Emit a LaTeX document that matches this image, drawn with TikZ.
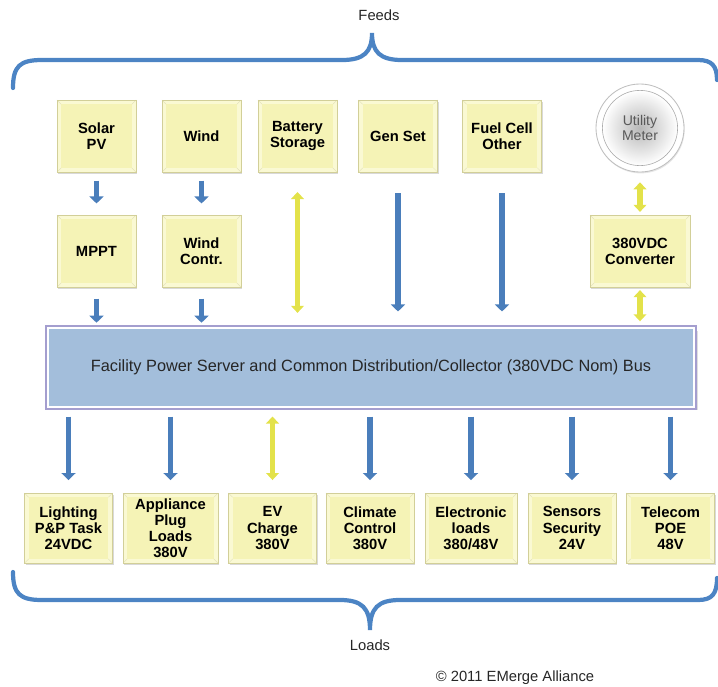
\documentclass[tikz,border=0pt]{standalone}
\usepackage{fontspec}
\setmainfont{Liberation Sans}
\usetikzlibrary{arrows.meta,shadows}

\definecolor{boxmid}{HTML}{F5F3B6}
\definecolor{boxlight}{HTML}{FAF9D3}
\definecolor{boxline}{HTML}{D2CF98}
\definecolor{feedblue}{HTML}{4A7EBB}
\definecolor{feedyellow}{HTML}{E3E24A}
\definecolor{braceblue}{HTML}{4C84C4}
\definecolor{busblue}{HTML}{A3BEDB}
\definecolor{buspurple}{HTML}{A49ECF}

\tikzset{
  box/.style={draw=boxline, line width=0.4pt, fill=boxlight, align=center,
    minimum width=1.975cm, minimum height=1.8cm, inner sep=1pt,
    font=\fontsize{10.5}{11.5}\selectfont\bfseries,
    drop shadow={opacity=0.3, shadow xshift=1pt, shadow yshift=-1.5pt},
    path picture={
      \fill[boxmid] ([shift={(3pt,-3pt)}]path picture bounding box.north west)
        rectangle ([shift={(-3pt,3pt)}]path picture bounding box.south east);
      \draw[boxline!70, line width=0.25pt]
        (path picture bounding box.north west) -- ++(3pt,-3pt)
        (path picture bounding box.north east) -- ++(-3pt,-3pt)
        (path picture bounding box.south west) -- ++(3pt,3pt)
        (path picture bounding box.south east) -- ++(-3pt,3pt);
    }},
  loadbox/.style={box, minimum width=2.2cm, minimum height=1.75cm},
  feed/.style={draw=feedblue, line width=4.2pt, -{Triangle[width=10pt,length=5pt]}},
  tie/.style={draw=feedyellow, line width=4pt, {Triangle[width=9pt,length=5pt]}-{Triangle[width=9pt,length=5pt]}},
  brace/.style={draw=braceblue, line width=3pt, line cap=round},
  label/.style={font=\fontsize{10.5}{12}\selectfont, text=black!85}
}

\begin{document}
\begin{tikzpicture}[x=0.025cm,y=-0.025cm]
\useasboundingbox (0,0) rectangle (718,686);

% braces
\draw[brace] (13,88) .. controls (13,66) and (20,60) .. (42,60) -- (342,60)
  .. controls (364,60) and (372,52) .. (372,33)
  .. controls (372,52) and (380,60) .. (402,60) -- (698,60)
  .. controls (712,60) and (717,66) .. (717,80);
\draw[brace] (13,572) .. controls (13,594) and (20,600) .. (42,600) -- (340,600)
  .. controls (362,600) and (370,608) .. (370,630)
  .. controls (370,608) and (378,600) .. (400,600) -- (698,600)
  .. controls (712,600) and (717,594) .. (717,578);

\node[label] (feeds) at (379,15) {Feeds};
\node[label] (loads) at (370,645) {Loads};
\node[label] (copy) at (515,678) {© 2011 EMerge Alliance};

% feeds
\node[box] (solar) at (96.5,136) {Solar\\PV};
\node[box] (wind) at (201.5,136) {Wind};
\node[box] (battery) at (297.5,136) {Battery\\Storage};
\node[box] (gen) at (398,136) {Gen Set};
\node[box] (fuel) at (502,136) {Fuel Cell\\Other};

\node[circle, draw=black!25, line width=0.6pt, fill=white, minimum size=2.2cm,
  drop shadow={opacity=0.2, shadow xshift=0.5pt, shadow yshift=-1pt}] (meter) at (640,128) {};
\node[circle, draw=black!35, line width=0.4pt, inner color=black!28, outer color=white,
  minimum size=1.88cm, align=center, text=black!65,
  font=\fontsize{10}{11}\selectfont] (metertext) at (meter) {Utility\\Meter};

\node[box] (mppt) at (96.5,251) {MPPT};
\node[box] (windctl) at (201.5,251) {Wind\\Contr.};
\node[box, minimum width=2.5cm] (conv) at (640,251) {380VDC\\Converter};

% bus
\node[fill=busblue, draw=white, line width=1.5pt, minimum width=16.15cm, minimum height=1.975cm,
  preaction={draw=buspurple, line width=4.5pt, drop shadow={opacity=0.25, shadow yshift=-2pt}},
  font=\fontsize{11.6}{13}\selectfont, text=black!85] (bus) at (371,367.5)
  {Facility Power Server and Common Distribution/Collector (380VDC Nom) Bus};

% loads
\node[loadbox] (light) at (68.5,528) {Lighting\\P\&P Task\\24VDC};
\node[loadbox, minimum width=2.375cm] (plug) at (170.5,528) {Appliance\\Plug\\Loads\\380V};
\node[loadbox] (ev) at (272.5,528) {EV\\Charge\\380V};
\node[loadbox] (climate) at (370,528) {Climate\\Control\\380V};
\node[loadbox, minimum width=2.3cm] (elec) at (471,528) {Electronic\\loads\\380/48V};
\node[loadbox] (sensor) at (572,528) {Sensors\\Security\\24V};
\node[loadbox] (telecom) at (670.5,528) {Telecom\\POE\\48V};

% arrows into the bus
\draw[feed, shorten <=6pt, shorten >=8pt] (solar) -- (mppt);
\draw[feed, shorten <=6pt, shorten >=8pt] (wind) -- (windctl);
\draw[feed, shorten <=8pt, shorten >=3pt] (mppt.south) -- (mppt.south |- bus.north);
\draw[feed, shorten <=8pt, shorten >=3pt] (windctl.south) -- (windctl.south |- bus.north);
\draw[tie, shorten <=14pt, shorten >=10pt] (battery.south) -- (battery.south |- bus.north);
\draw[feed, shorten <=15pt, shorten >=11pt] (gen.south) -- (gen.south |- bus.north);
\draw[feed, shorten <=15pt, shorten >=11pt] (fuel.south) -- (fuel.south |- bus.north);
\draw[tie, shorten <=7pt, shorten >=2pt] (meter) -- (conv);
\draw[tie, shorten <=2pt, shorten >=4pt] (conv.south) -- (conv.south |- bus.north);

% arrows out of the bus
\foreach \ld in {light,plug,climate,elec,sensor,telecom}
  \draw[feed, shorten <=6pt, shorten >=9pt] (bus.south -| \ld.north) -- (\ld.north);
\draw[tie, shorten <=6pt, shorten >=9pt] (bus.south -| ev.north) -- (ev.north);

\end{tikzpicture}
\end{document}
